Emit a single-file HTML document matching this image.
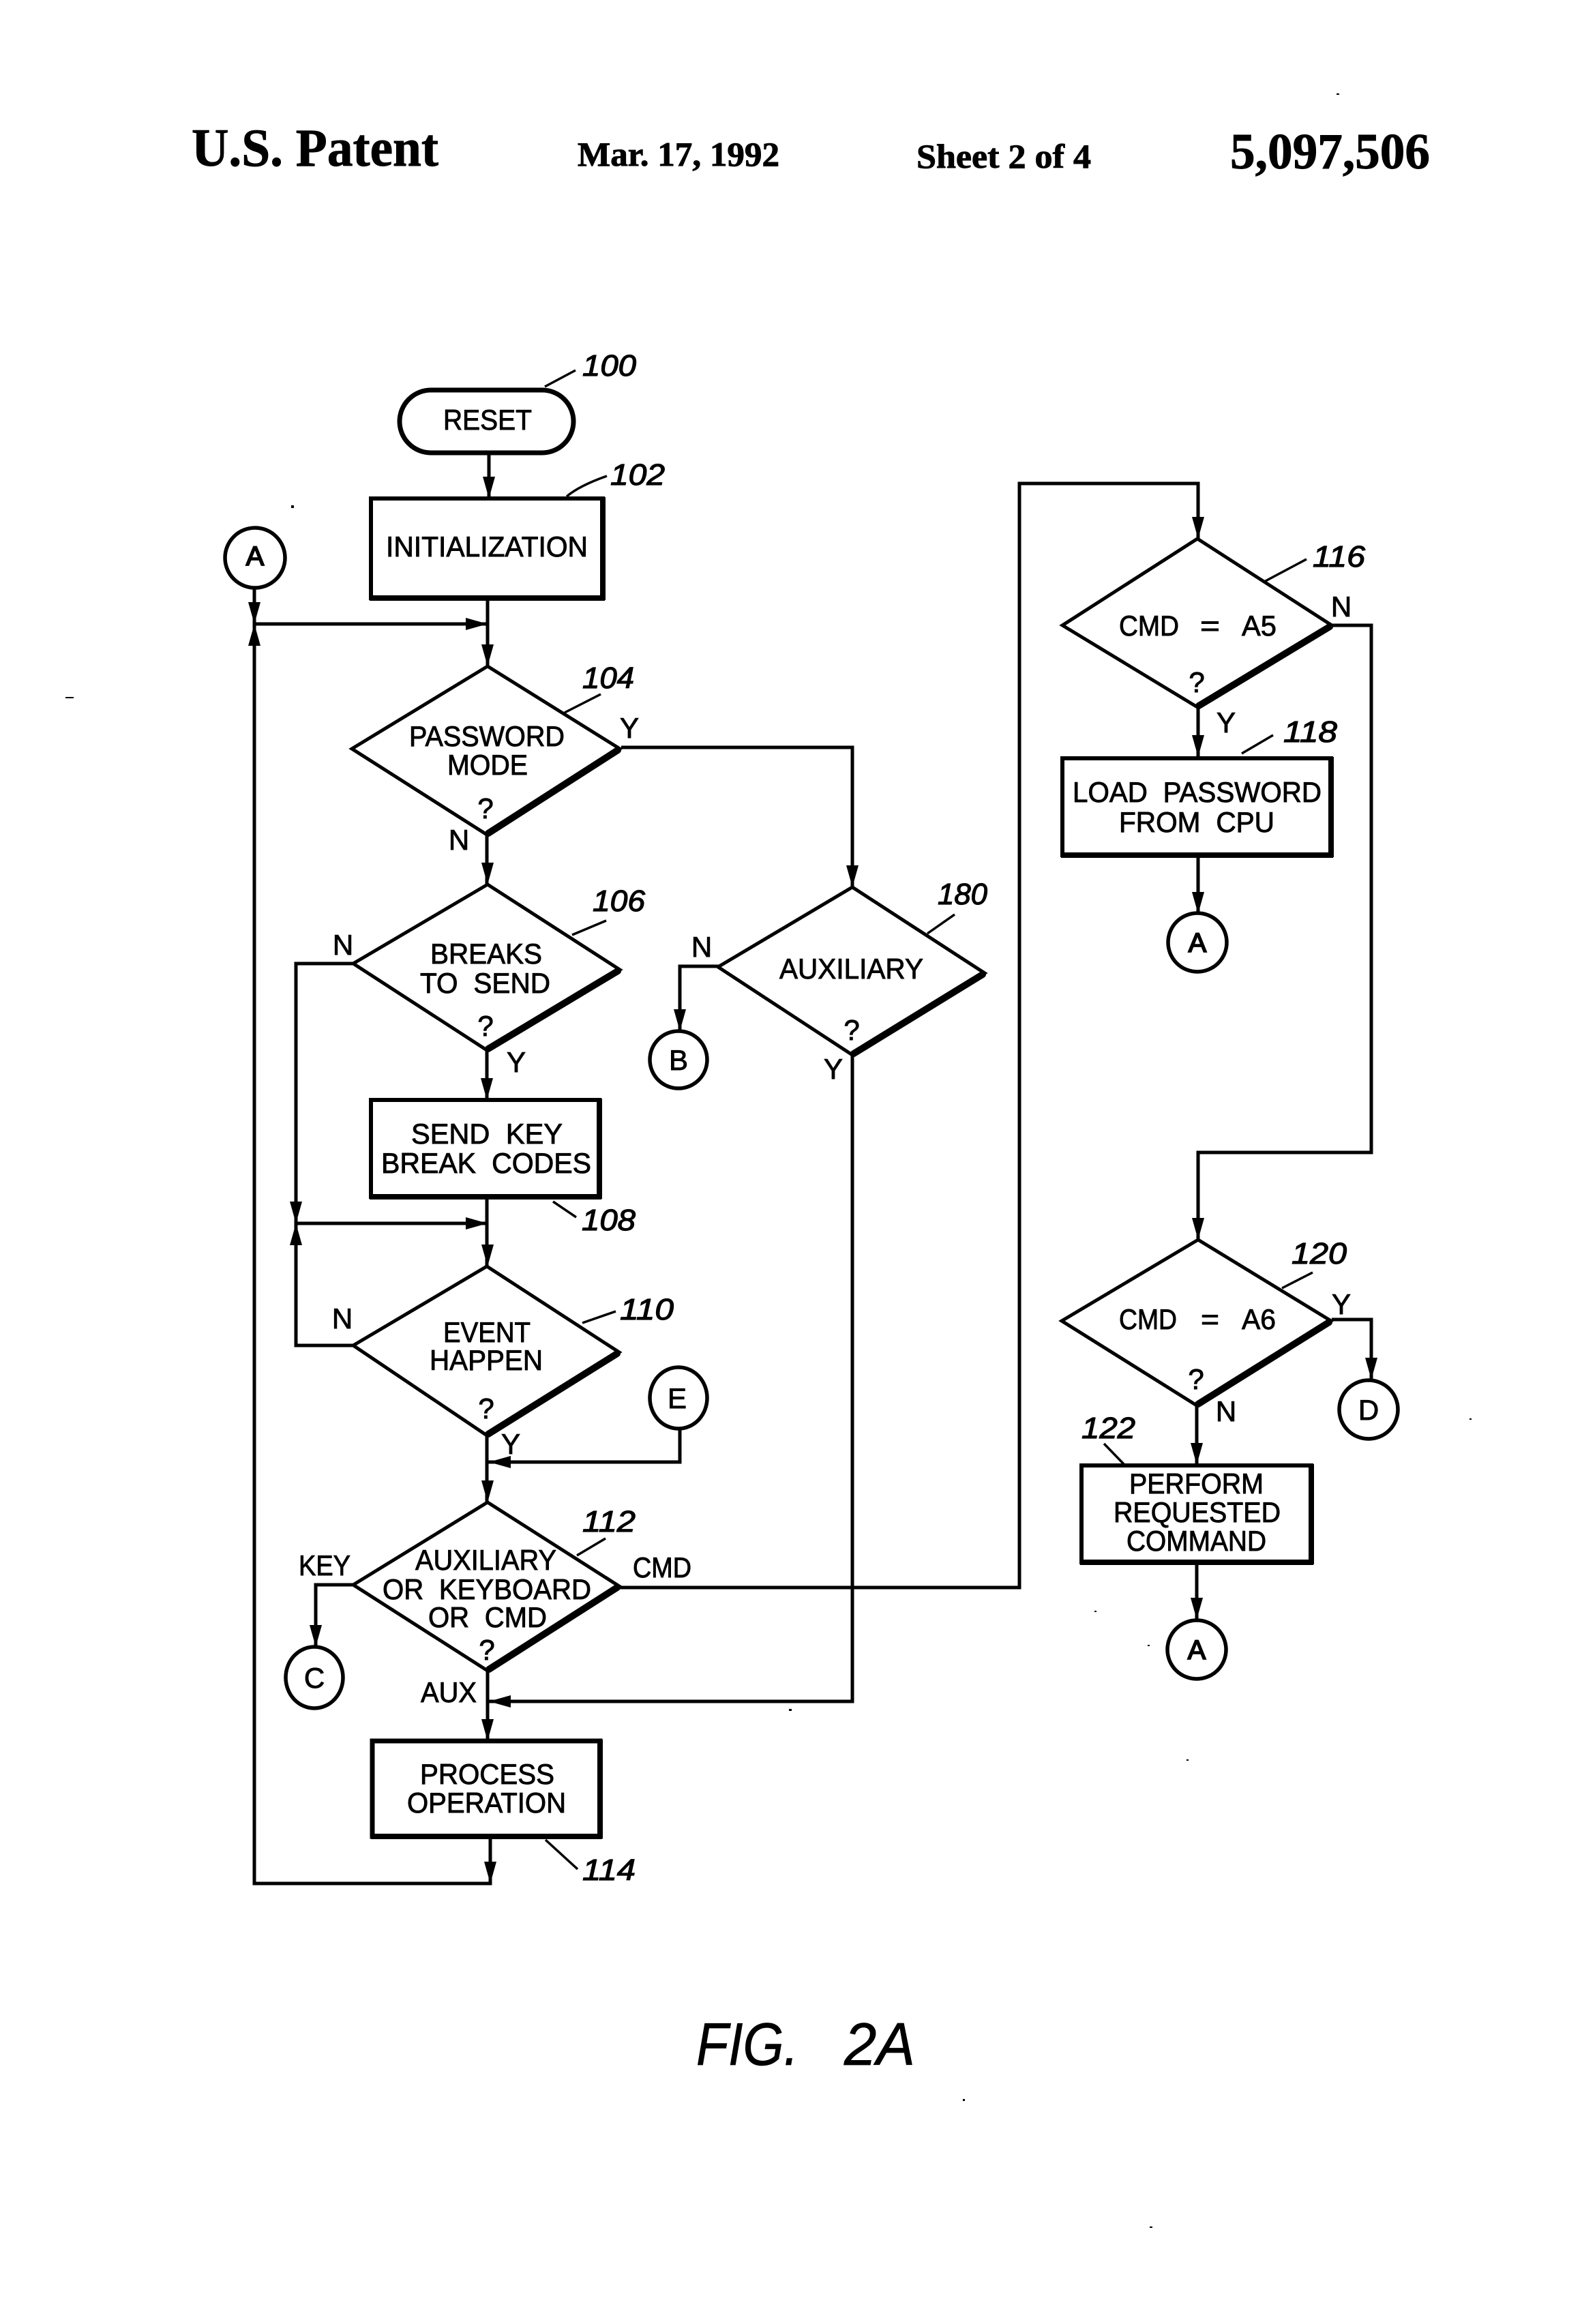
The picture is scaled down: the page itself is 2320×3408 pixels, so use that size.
<!DOCTYPE html>
<html>
<head>
<meta charset="utf-8">
<title>U.S. Patent 5,097,506 Sheet 2 - FIG. 2A</title>
<style>
html,body{margin:0;padding:0;background:#fff;}
svg{display:block;}
.h{font-family:"Liberation Serif",serif;font-weight:bold;fill:#000;stroke:#000;stroke-width:.9px;}
.t{font-family:"Liberation Sans",sans-serif;font-size:42px;fill:#000;stroke:#000;stroke-width:.9px;word-spacing:12px;}
.c{text-anchor:middle;}
.b{stroke-width:1.8px;}
.n{font-family:"Liberation Sans",sans-serif;font-style:italic;font-size:44px;fill:#000;stroke:#000;stroke-width:1.2px;}
.f{font-family:"Liberation Sans",sans-serif;font-style:italic;font-size:88px;fill:#000;stroke:#000;stroke-width:.8px;}
.l{fill:none;stroke:#000;stroke-width:5px;stroke-linejoin:miter;}
.k{fill:none;stroke:#000;stroke-width:10px;stroke-linecap:round;}
.r{fill:none;stroke:#000;stroke-width:3.5px;}
</style>
</head>
<body>
<svg xmlns="http://www.w3.org/2000/svg" width="2320" height="3408" viewBox="0 0 2320 3408">
<rect width="2320" height="3408" fill="#fff"/>

<!-- header -->
<text class="h" x="281" y="243" font-size="78" textLength="362" lengthAdjust="spacingAndGlyphs">U.S. Patent</text>
<text class="h" x="847" y="243" font-size="50" textLength="296" lengthAdjust="spacingAndGlyphs">Mar. 17, 1992</text>
<text class="h" x="1344" y="246" font-size="50" textLength="256" lengthAdjust="spacingAndGlyphs">Sheet 2 of 4</text>
<text class="h" x="1804" y="247" font-size="74" textLength="293" lengthAdjust="spacingAndGlyphs">5,097,506</text>

<!-- connectors -->
<path class="l" d="M717 664V731"/>
<path class="l" d="M715 877V977"/>
<path class="l" d="M373 863V2762H719V2693"/>
<path class="l" d="M373 915H715"/>
<path class="l" d="M714 1224V1297"/>
<path class="l" d="M911 1096H1250V1301"/>
<path class="l" d="M714 1540V1613"/>
<path class="l" d="M521 1413H434V1973H521"/>
<path class="l" d="M434 1794H715"/>
<path class="l" d="M714 1755V1857"/>
<path class="l" d="M714 2105V2203"/>
<path class="l" d="M997 2093V2144H715"/>
<path class="l" d="M521 2324H463V2415"/>
<path class="l" d="M909 2328H1495V709H1757V790"/>
<path class="l" d="M1250 1547V2495H715"/>
<path class="l" d="M715 2450V2553"/>
<path class="l" d="M1055 1417H997V1512"/>
<path class="l" d="M1757 1037V1110"/>
<path class="l" d="M1757 1254V1340"/>
<path class="l" d="M1954 917H2011V1690H1757V1818"/>
<path class="l" d="M1953 1935H2011V2023"/>
<path class="l" d="M1755 2061V2148"/>
<path class="l" d="M1755 2291V2375"/>

<!-- arrowheads -->
<g fill="#000">
<polygon points="708,699 726,699 717,731"/>
<polygon points="706,945 724,945 715,977"/>
<polygon points="706,1265 724,1265 715,1297"/>
<polygon points="1241,1269 1259,1269 1250,1301"/>
<polygon points="988,1480 1006,1480 997,1512"/>
<polygon points="705,1581 723,1581 714,1613"/>
<polygon points="706,1825 724,1825 715,1857"/>
<polygon points="706,2171 724,2171 715,2203"/>
<polygon points="454,2383 472,2383 463,2415"/>
<polygon points="706,2521 724,2521 715,2553"/>
<polygon points="710,2730 728,2730 719,2762"/>
<polygon points="1748,758 1766,758 1757,790"/>
<polygon points="1748,1078 1766,1078 1757,1110"/>
<polygon points="1748,1308 1766,1308 1757,1340"/>
<polygon points="1748,1786 1766,1786 1757,1818"/>
<polygon points="2002,1991 2020,1991 2011,2023"/>
<polygon points="1746,2116 1764,2116 1755,2148"/>
<polygon points="1746,2343 1764,2343 1755,2375"/>
<polygon points="364,883 382,883 373,915"/>
<polygon points="364,947 382,947 373,915"/>
<polygon points="425,1762 443,1762 434,1794"/>
<polygon points="425,1826 443,1826 434,1794"/>
<polygon points="683,906 683,924 715,915"/>
<polygon points="683,1785 683,1803 715,1794"/>
<polygon points="749,2135 749,2153 717,2144"/>
<polygon points="749,2486 749,2504 717,2495"/>
</g>

<!-- terminator -->
<rect class="l" x="586" y="572" width="255" height="92" rx="46" ry="46" fill="#fff" style="stroke-width:7px"/>

<!-- process boxes -->
<g fill="none" stroke="#000">
<rect x="544" y="731" width="340" height="146" stroke-width="6"/>
<path d="M884 729V880M542 877H887" stroke-width="8"/>
<rect x="544" y="1613" width="335" height="142" stroke-width="6"/>
<path d="M879 1611V1758M542 1755H882" stroke-width="8"/>
<rect x="546" y="2553" width="334" height="140" stroke-width="7"/>
<path d="M880 2551V2696M544 2693H883" stroke-width="8"/>
<rect x="1558" y="1112" width="394" height="142" stroke-width="6"/>
<path d="M1952 1110V1257M1556 1254H1955" stroke-width="8"/>
<rect x="1586" y="2149" width="337" height="142" stroke-width="6"/>
<path d="M1923 2147V2294M1584 2291H1926" stroke-width="8"/>
</g>

<!-- decision diamonds -->
<polygon class="l" points="715,977 909,1098 714,1224 516,1098"/>
<path class="k" d="M906 1100L716 1222"/>
<polygon class="l" points="715,1297 909,1422 714,1540 518,1413"/>
<path class="k" d="M906 1424L716 1538"/>
<polygon class="l" points="714,1857 908,1983 714,2105 518,1973"/>
<path class="k" d="M905 1985L716 2103"/>
<polygon class="l" points="715,2203 908,2326 715,2450 518,2324"/>
<path class="k" d="M905 2328L717 2448"/>
<polygon class="l" points="1250,1301 1444,1427 1250,1547 1053,1418"/>
<path class="k" d="M1441 1429L1252 1545"/>
<polygon class="l" points="1756,790 1953,917 1756,1037 1558,917"/>
<path class="k" d="M1950 919L1758 1035"/>
<polygon class="l" points="1757,1818 1952,1937 1755,2061 1557,1937"/>
<path class="k" d="M1949 1939L1757 2059"/>

<!-- connector circles -->
<g fill="#fff" stroke="#000" stroke-width="5.5">
<circle cx="374" cy="818" r="44"/>
<circle cx="995" cy="1554" r="42"/>
<ellipse cx="995" cy="2050" rx="42" ry="45"/>
<ellipse cx="461" cy="2460" rx="42" ry="45"/>
<circle cx="1756" cy="1382" r="43"/>
<circle cx="2007" cy="2067" r="43"/>
<circle cx="1755" cy="2419" r="43"/>
</g>

<!-- reference leaders -->
<path class="r" d="M799 567L844 543"/>
<path class="r" d="M831 728Q850 712 890 698"/>
<path class="r" d="M828 1045L881 1018"/>
<path class="r" d="M839 1371L889 1350"/>
<path class="r" d="M811 1762L845 1785"/>
<path class="r" d="M854 1940L903 1923"/>
<path class="r" d="M846 2281L888 2256"/>
<path class="r" d="M800 2698L847 2741"/>
<path class="r" d="M1854 853L1916 820"/>
<path class="r" d="M1821 1105L1867 1078"/>
<path class="r" d="M1880 1889L1925 1866"/>
<path class="r" d="M1619 2117L1649 2148"/>
<path class="r" d="M1360 1369L1400 1341"/>

<!-- reference numbers -->
<text class="n" x="854" y="551" textLength="79" lengthAdjust="spacingAndGlyphs">100</text>
<text class="n" x="895" y="711" textLength="80" lengthAdjust="spacingAndGlyphs">102</text>
<text class="n" x="854" y="1009" textLength="76" lengthAdjust="spacingAndGlyphs">104</text>
<text class="n" x="869" y="1336" textLength="77" lengthAdjust="spacingAndGlyphs">106</text>
<text class="n" x="853" y="1804" textLength="79" lengthAdjust="spacingAndGlyphs">108</text>
<text class="n" x="909" y="1935" textLength="79" lengthAdjust="spacingAndGlyphs">110</text>
<text class="n" x="854" y="2246" textLength="78" lengthAdjust="spacingAndGlyphs">112</text>
<text class="n" x="854" y="2757" textLength="78" lengthAdjust="spacingAndGlyphs">114</text>
<text class="n" x="1925" y="831" textLength="77" lengthAdjust="spacingAndGlyphs">116</text>
<text class="n" x="1882" y="1088" textLength="79" lengthAdjust="spacingAndGlyphs">118</text>
<text class="n" x="1894" y="1853" textLength="81" lengthAdjust="spacingAndGlyphs">120</text>
<text class="n" x="1586" y="2109" textLength="79" lengthAdjust="spacingAndGlyphs">122</text>
<text class="n" x="1375" y="1326" textLength="73" lengthAdjust="spacingAndGlyphs">180</text>

<!-- node labels -->
<text class="t" x="650" y="630" textLength="130" lengthAdjust="spacingAndGlyphs">RESET</text>
<text class="t" x="566" y="816" textLength="296" lengthAdjust="spacingAndGlyphs">INITIALIZATION</text>
<text class="t" x="600" y="1094" textLength="228" lengthAdjust="spacingAndGlyphs">PASSWORD</text>
<text class="t" x="656" y="1136" textLength="118" lengthAdjust="spacingAndGlyphs">MODE</text>
<text class="t" x="631" y="1413" textLength="164" lengthAdjust="spacingAndGlyphs">BREAKS</text>
<text class="t" x="616" y="1456" textLength="191" lengthAdjust="spacingAndGlyphs">TO SEND</text>
<text class="t" x="1143" y="1435" textLength="211" lengthAdjust="spacingAndGlyphs">AUXILIARY</text>
<text class="t" x="603" y="1677" textLength="222" lengthAdjust="spacingAndGlyphs">SEND KEY</text>
<text class="t" x="559" y="1720" textLength="308" lengthAdjust="spacingAndGlyphs">BREAK CODES</text>
<text class="t" x="650" y="1968" textLength="128" lengthAdjust="spacingAndGlyphs">EVENT</text>
<text class="t" x="630" y="2009" textLength="166" lengthAdjust="spacingAndGlyphs">HAPPEN</text>
<text class="t" x="609" y="2302" textLength="207" lengthAdjust="spacingAndGlyphs">AUXILIARY</text>
<text class="t" x="561" y="2345" textLength="306" lengthAdjust="spacingAndGlyphs">OR KEYBOARD</text>
<text class="t" x="628" y="2386" textLength="174" lengthAdjust="spacingAndGlyphs">OR CMD</text>
<text class="t" x="616" y="2616" textLength="197" lengthAdjust="spacingAndGlyphs">PROCESS</text>
<text class="t" x="597" y="2658" textLength="233" lengthAdjust="spacingAndGlyphs">OPERATION</text>
<text class="t" x="1641" y="932" textLength="88" lengthAdjust="spacingAndGlyphs">CMD</text>
<text class="t" x="1760" y="932" textLength="29" lengthAdjust="spacingAndGlyphs">=</text>
<text class="t" x="1821" y="932" textLength="51" lengthAdjust="spacingAndGlyphs">A5</text>
<text class="t" x="1573" y="1176" textLength="365" lengthAdjust="spacingAndGlyphs">LOAD PASSWORD</text>
<text class="t" x="1641" y="1220" textLength="228" lengthAdjust="spacingAndGlyphs">FROM CPU</text>
<text class="t" x="1641" y="1949" textLength="85" lengthAdjust="spacingAndGlyphs">CMD</text>
<text class="t" x="1761" y="1949" textLength="27" lengthAdjust="spacingAndGlyphs">=</text>
<text class="t" x="1821" y="1949" textLength="50" lengthAdjust="spacingAndGlyphs">A6</text>
<text class="t" x="1656" y="2190" textLength="197" lengthAdjust="spacingAndGlyphs">PERFORM</text>
<text class="t" x="1633" y="2232" textLength="245" lengthAdjust="spacingAndGlyphs">REQUESTED</text>
<text class="t" x="1652" y="2274" textLength="205" lengthAdjust="spacingAndGlyphs">COMMAND</text>

<!-- question marks -->
<text class="t c" x="712" y="1200">?</text>
<text class="t c" x="712" y="1519">?</text>
<text class="t c" x="1249" y="1525">?</text>
<text class="t c" x="713" y="2080">?</text>
<text class="t c" x="714" y="2434">?</text>
<text class="t c" x="1755" y="1015">?</text>
<text class="t c" x="1754" y="2037">?</text>

<!-- branch labels -->
<text class="t c" x="923" y="1082">Y</text>
<text class="t c" x="673" y="1246">N</text>
<text class="t c" x="503" y="1400">N</text>
<text class="t c" x="757" y="1572">Y</text>
<text class="t c" x="1029" y="1403">N</text>
<text class="t c" x="1222" y="1582">Y</text>
<text class="t c" x="502" y="1948">N</text>
<text class="t c" x="749" y="2132">Y</text>
<text class="t" x="438" y="2310" textLength="76" lengthAdjust="spacingAndGlyphs">KEY</text>
<text class="t" x="928" y="2313" textLength="86" lengthAdjust="spacingAndGlyphs">CMD</text>
<text class="t" x="617" y="2496" textLength="82" lengthAdjust="spacingAndGlyphs">AUX</text>
<text class="t c" x="1967" y="904">N</text>
<text class="t c" x="1798" y="1074">Y</text>
<text class="t c" x="1967" y="1927">Y</text>
<text class="t c" x="1798" y="2084">N</text>

<!-- connector letters -->
<text class="t c b" x="374" y="829" style="font-size:40px">A</text>
<text class="t c" x="995" y="1569">B</text>
<text class="t c" x="993" y="2065">E</text>
<text class="t c" x="461" y="2475">C</text>
<text class="t c b" x="1756" y="1396" style="font-size:40px">A</text>
<text class="t c" x="2007" y="2082">D</text>
<text class="t c b" x="1755" y="2433" style="font-size:40px">A</text>

<!-- figure caption -->
<text class="f" x="1021" y="3028" textLength="150" lengthAdjust="spacingAndGlyphs">FIG.</text>
<text class="f" x="1238" y="3028" textLength="104" lengthAdjust="spacingAndGlyphs">2A</text>

<!-- scan specks -->
<g fill="#000">
<rect x="427" y="741" width="4" height="4"/>
<rect x="1157" y="2506" width="4" height="3"/>
<rect x="96" y="1022" width="12" height="2"/>
<rect x="1740" y="2580" width="3" height="2"/>
<rect x="1605" y="2362" width="3" height="2"/>
<rect x="1683" y="2412" width="3" height="2"/>
<rect x="1412" y="3078" width="3" height="3"/>
<rect x="1686" y="3265" width="4" height="2"/>
<rect x="2155" y="2080" width="3" height="2"/>
<rect x="1960" y="137" width="4" height="2"/>
</g>
</svg>
</body>
</html>
